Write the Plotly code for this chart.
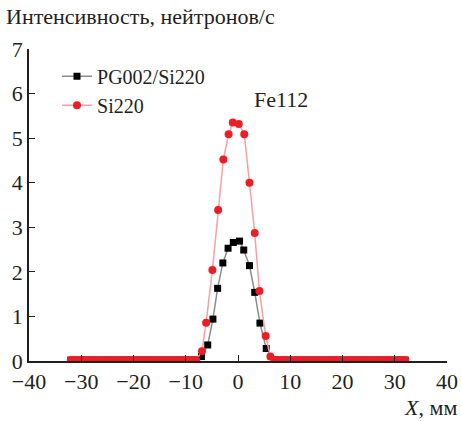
import plotly.graph_objects as go

flat_left = [-32, -31, -30, -29, -28, -27, -26, -25, -24, -23, -22, -21, -20, -19, -18, -17, -16, -15, -14, -13, -12, -11, -10, -9, -8]
flat_right = [7, 8, 9, 10, 11, 12, 13, 14, 15, 16, 17, 18, 19, 20, 21, 22, 23, 24, 25, 26, 27, 28, 29, 30, 31, 32]

# PG002/Si220 (black squares), peak region
pg_x_peak = [-7.0, -5.8, -4.8, -3.9, -2.9, -1.9, -0.9, 0.3, 1.1, 2.2, 3.2, 4.2, 5.4]
pg_y_peak = [0.10, 0.36, 0.94, 1.63, 2.20, 2.53, 2.66, 2.69, 2.49, 2.14, 1.54, 0.85, 0.28]

# Si220 (red circles), peak region
si_x_peak = [-6.9, -6.1, -4.9, -3.8, -2.8, -1.8, -1.0, 0.15, 1.2, 2.2, 3.2, 4.1, 5.3, 6.2]
si_y_peak = [0.22, 0.86, 2.04, 3.39, 4.52, 5.09, 5.35, 5.32, 5.09, 4.00, 2.87, 1.57, 0.56, 0.10]

flat_y_left = [0.02] * len(flat_left)
flat_y_right = [0.02] * len(flat_right)

pg_x = flat_left + pg_x_peak + flat_right
pg_y = flat_y_left + pg_y_peak + flat_y_right
si_x = flat_left + si_x_peak + flat_right
si_y = flat_y_left + si_y_peak + flat_y_right

x_ticks = [-40, -30, -20, -10, 0, 10, 20, 30, 40]
y_ticks = [0, 1, 2, 3, 4, 5, 6, 7]

FONT = "Liberation Serif"
INK = "#231f20"

def f(size):
    return dict(family=FONT, size=size, color=INK)

fig = go.Figure()
fig.add_trace(go.Scatter(
    x=pg_x, y=pg_y, mode="lines+markers", name="PG002/Si220",
    line=dict(color="#8c8c8c", width=1.5),
    marker=dict(symbol="square", size=7, color="black"),
))
fig.add_trace(go.Scatter(
    x=si_x, y=si_y, mode="lines+markers", name="Si220",
    line=dict(color="#f7a0a0", width=1.5),
    marker=dict(symbol="circle", size=8, color="#ee1c25"),
))

fig.update_layout(
    template="none",
    width=461, height=421,
    margin=dict(l=29, r=14, t=49, b=60),
    paper_bgcolor="white", plot_bgcolor="white",
    font=f(22),
    showlegend=True,
    legend=dict(x=0.067, y=0.975, xanchor="left", yanchor="top",
                bgcolor="rgba(0,0,0,0)", font=f(20)),
    xaxis=dict(range=[-40, 40], tickvals=x_ticks, ticks="inside", ticklen=6,
               tickwidth=1.2, tickcolor=INK, automargin=False, tickfont=f(22),
               showline=True, linecolor=INK, linewidth=1.5,
               showgrid=False, zeroline=False),
    yaxis=dict(range=[0, 7], tickvals=y_ticks, ticks="inside", ticklen=6,
               tickwidth=1.2, tickcolor=INK, automargin=False, tickfont=f(22),
               showline=True, linecolor=INK, linewidth=1.5,
               showgrid=False, zeroline=False),
    annotations=[
        dict(text="Интенсивность, нейтронов/с", xref="paper", yref="paper",
             x=0, y=1, xanchor="left", yanchor="bottom", xshift=-25, yshift=18,
             showarrow=False, font=f(22)),
        dict(text="Fe112", xref="x", yref="y", x=8.3, y=5.86,
             showarrow=False, font=f(22)),
        dict(text="<i>X</i>, мм", xref="paper", yref="paper",
             x=1, y=0, xanchor="right", yanchor="top", xshift=12, yshift=-32,
             showarrow=False, font=f(22)),
    ],
)

fig.write_html("out.html")
